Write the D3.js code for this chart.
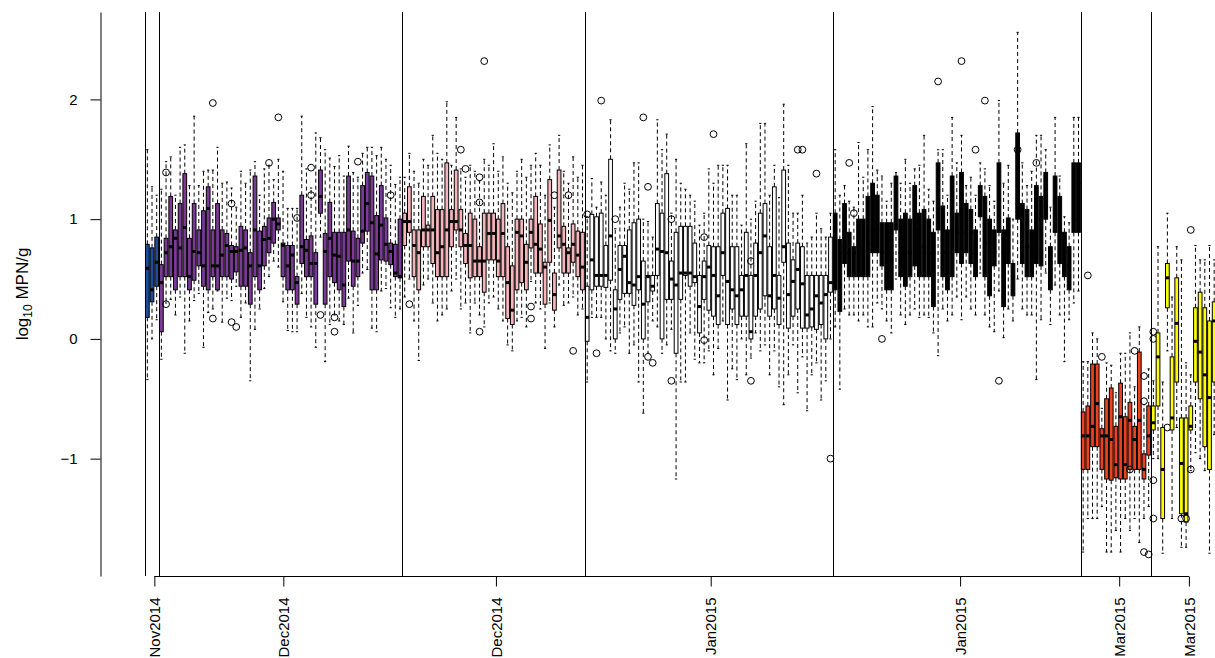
<!DOCTYPE html>
<html>
<head>
<meta charset="utf-8">
<script src="https://cdn.jsdelivr.net/npm/d3@7"></script>
<style>
  body { margin: 0; background: #fff; }
  svg { display: block; font-family: "Liberation Sans", Arial, sans-serif; }
</style>
</head>
<body>
<div id="chart"></div>
<script>
// number of daily boxes in each sampling period (plot order)
const boxCounts = [3, 52, 39, 53, 53, 15, 14];

// box statistics, log10 MPN/g, one value per box (periods on separate lines)
const medians = [
	0.59, 0.41, 0.64,
	0.47, 0.72, 0.77, 0.84, 0.76, 0.93, 0.52, 0.73, 0.72, 0.61, 1.09, 0.61, 0.61, 0.70, 0.78, 0.73, 0.73, 0.74, 0.76, 0.61, 0.91, 0.61, 0.83, 0.84, 1.00, 0.96, 0.78, 0.61, 0.70, 0.47, 0.77, 0.74, 0.63, 0.63, 1.19, 0.73, 0.84, 0.70, 0.69, 0.45, 0.91, 0.65, 0.65, 0.90, 1.13, 0.97, 0.71, 0.95, 0.79, 0.73, 0.55, 0.52,
	0.98, 0.98, 0.78, 0.72, 0.91, 0.91, 0.91, 0.72, 0.77, 0.91, 0.98, 0.98, 0.91, 0.78, 0.78, 0.65, 0.65, 0.65, 0.88, 0.88, 0.65, 0.88, 0.47, 0.24, 0.89, 0.86, 0.64, 0.89, 0.79, 0.75, 0.60, 0.99, 0.37, 0.86, 0.79, 0.72, 0.79, 0.70, 0.60,
	0.18, 0.66, 0.53, 0.53, 0.53, 0.86, 0.25, 0.58, 0.69, 0.47, 0.45, 0.52, 0.29, 0.52, 0.44, 0.75, 0.73, 0.72, 0.50, 0.45, 0.55, 0.55, 0.55, 0.52, 0.27, 0.52, 0.60, 0.53, 0.36, 0.72, 0.48, 0.41, 0.36, 0.41, 0.53, 0.06, 0.53, 0.72, 0.86, 0.36, 0.53, 0.34, 0.77, 0.37, 0.48, 0.58, 0.46, 0.20, 0.25, 0.36, 0.30, 0.37, 0.47,
	0.72, 0.72, 0.77, 0.72, 0.72, 0.77, 0.72, 0.80, 0.91, 0.91, 0.72, 0.72, 0.72, 1.05, 0.72, 0.72, 0.72, 0.91, 0.72, 0.77, 0.72, 0.72, 1.05, 0.72, 0.72, 1.05, 0.89, 1.05, 0.89, 0.89, 0.72, 1.16, 0.80, 0.72, 0.72, 1.16, 0.72, 0.89, 0.52, 1.13, 0.91, 0.77, 0.77, 0.91, 1.00, 1.11, 0.72, 1.16, 0.89, 0.72, 0.61, 1.00, 1.30,
	-0.81, -0.81, -0.73, -0.54, -0.81, -0.81, -0.84, -1.05, -0.65, -1.05, -0.68, -0.84, -0.68, -1.09, -0.81,
	-0.70, -0.15, -1.09, 0.51, -0.66, 0.13, -1.04, -1.46, -0.73, -0.02, -0.11, -0.30, -0.49, 0.15
];
const lowerQuartiles = [
	0.18, 0.31, 0.44,
	0.06, 0.52, 0.52, 0.41, 0.52, 0.52, 0.41, 0.49, 0.61, 0.44, 0.41, 0.52, 0.41, 0.52, 0.52, 0.50, 0.56, 0.44, 0.44, 0.29, 0.52, 0.41, 0.61, 0.72, 0.80, 0.91, 0.52, 0.41, 0.41, 0.29, 0.63, 0.52, 0.52, 0.29, 1.05, 0.29, 0.52, 0.47, 0.41, 0.27, 0.65, 0.44, 0.52, 0.80, 0.90, 0.41, 0.41, 0.66, 0.65, 0.62, 0.52, 0.51,
	0.78, 0.89, 0.52, 0.41, 0.77, 0.77, 0.63, 0.52, 0.52, 0.52, 0.77, 0.91, 0.77, 0.63, 0.51, 0.52, 0.52, 0.39, 0.66, 0.66, 0.52, 0.52, 0.17, 0.12, 0.41, 0.47, 0.41, 0.76, 0.55, 0.55, 0.29, 0.64, 0.24, 0.76, 0.55, 0.55, 0.64, 0.52, 0.41,
	-0.02, 0.41, 0.44, 0.44, 0.43, 0.49, 0.00, 0.33, 0.38, 0.38, 0.28, 0.41, 0.00, 0.31, 0.40, 0.53, 0.00, 0.33, 0.33, -0.12, 0.33, 0.53, 0.44, 0.47, 0.05, 0.33, 0.24, 0.19, 0.12, 0.53, 0.12, 0.25, 0.12, 0.19, 0.19, 0.00, 0.19, 0.25, 0.36, 0.19, 0.25, 0.12, 0.64, 0.09, 0.19, 0.25, 0.09, 0.09, 0.10, 0.08, 0.12, 0.00, 0.39,
	0.41, 0.23, 0.63, 0.52, 0.52, 0.52, 0.52, 0.52, 0.72, 0.72, 0.61, 0.41, 0.41, 0.91, 0.52, 0.44, 0.52, 0.61, 0.52, 0.52, 0.52, 0.27, 0.91, 0.52, 0.41, 0.52, 0.72, 0.63, 0.72, 0.63, 0.52, 1.02, 0.52, 0.36, 0.61, 0.89, 0.27, 0.63, 0.36, 1.00, 0.63, 0.52, 0.52, 0.63, 0.61, 1.00, 0.41, 0.89, 0.63, 0.52, 0.41, 0.89, 0.89,
	-1.09, -1.09, -0.90, -0.90, -1.09, -1.17, -1.18, -1.16, -1.17, -1.17, -1.09, -1.09, -1.09, -1.17, -0.97,
	-0.76, -0.56, -1.50, 0.26, -0.76, -0.36, -1.46, -1.53, -0.76, -0.36, -0.50, -0.90, -1.09, -0.36
];
const upperQuartiles = [
	0.79, 0.76, 0.85,
	0.62, 0.84, 1.19, 0.91, 1.13, 1.38, 0.84, 1.13, 0.91, 1.07, 1.27, 0.91, 1.13, 0.91, 0.88, 0.78, 0.77, 0.94, 0.91, 0.72, 1.36, 0.90, 0.94, 1.01, 1.14, 1.01, 0.80, 0.78, 0.78, 0.52, 1.20, 0.83, 0.86, 0.72, 1.41, 0.88, 1.14, 0.89, 0.89, 0.89, 1.36, 0.90, 0.84, 1.28, 1.39, 1.36, 1.03, 1.28, 1.01, 0.80, 0.79, 1.00,
	1.05, 1.27, 0.91, 0.91, 1.19, 0.95, 1.19, 1.08, 1.08, 1.47, 1.08, 1.41, 1.08, 0.88, 1.05, 1.00, 0.77, 1.05, 1.05, 1.05, 1.00, 1.13, 0.77, 0.61, 1.00, 1.00, 0.79, 1.00, 1.19, 0.96, 0.64, 1.33, 0.55, 1.41, 0.94, 0.76, 0.96, 0.90, 0.89,
	0.44, 1.04, 1.02, 1.05, 0.78, 1.50, 0.41, 0.78, 0.78, 0.91, 0.97, 1.00, 0.65, 0.53, 0.53, 1.13, 1.05, 1.38, 0.65, 0.89, 0.94, 0.94, 0.94, 0.80, 0.53, 0.65, 0.78, 0.77, 0.77, 1.05, 1.09, 0.77, 0.77, 0.53, 0.89, 0.53, 0.80, 1.05, 1.13, 0.77, 1.27, 0.53, 1.41, 0.80, 0.66, 0.80, 0.77, 0.53, 0.53, 0.53, 0.53, 0.53, 0.85,
	1.05, 0.83, 1.13, 0.89, 0.77, 1.00, 1.00, 1.19, 1.30, 1.20, 0.97, 0.97, 0.97, 1.36, 1.00, 1.05, 1.00, 1.28, 1.05, 1.08, 1.00, 0.89, 1.47, 1.11, 0.91, 1.36, 1.05, 1.39, 1.13, 1.08, 0.91, 1.28, 1.19, 1.00, 0.91, 1.47, 0.91, 1.01, 0.63, 1.72, 1.13, 1.08, 0.91, 1.28, 1.19, 1.39, 0.77, 1.36, 1.19, 0.89, 0.77, 1.47, 1.47,
	-0.61, -0.56, -0.21, -0.21, -0.75, -0.50, -0.41, -0.73, -0.37, -0.65, -0.53, -0.73, -0.11, -0.96, -0.56,
	-0.56, 0.05, -0.74, 0.63, -0.15, 0.51, -0.66, -0.66, -0.56, 0.26, 0.39, 0.26, 0.15, 0.31
];
const lowerWhiskers = [
	-0.34, 0.00, 0.16,
	-0.17, 0.30, 0.33, 0.20, 0.35, -0.12, 0.15, 0.32, 0.38, -0.07, 0.22, 0.25, 0.40, 0.14, 0.34, 0.32, 0.44, 0.18, 0.30, -0.35, 0.08, 0.25, 0.42, 0.52, 0.65, 0.60, 0.31, 0.07, 0.06, 0.06, 0.38, 0.18, 0.10, -0.07, 0.85, -0.19, 0.12, 0.20, 0.15, 0.12, 0.34, 0.05, 0.28, 0.55, 0.58, 0.09, 0.06, 0.40, 0.42, 0.26, 0.18, 0.25,
	0.35, 0.50, 0.15, -0.18, 0.45, 0.50, 0.30, 0.15, 0.20, 0.25, 0.40, 0.50, 0.25, 0.30, 0.05, 0.30, 0.20, 0.10, 0.30, 0.35, 0.25, 0.15, -0.05, -0.10, 0.15, 0.18, 0.10, 0.48, 0.30, 0.25, -0.08, 0.30, 0.10, 0.45, 0.28, 0.30, 0.35, 0.20, 0.25,
	-0.36, 0.18, 0.18, 0.18, 0.00, -0.10, -0.12, 0.05, 0.10, -0.12, -0.05, -0.36, -0.62, -0.12, 0.15, 0.10, -0.12, -0.05, 0.08, -1.17, -0.36, -0.36, 0.05, -0.17, -0.20, -0.20, -0.10, -0.30, -0.08, 0.15, -0.51, -0.25, -0.34, 0.00, -0.30, -0.16, 0.05, -0.10, -0.05, -0.30, -0.10, -0.40, -0.55, -0.30, -0.05, -0.45, -0.15, -0.60, -0.30, -0.20, -0.51, -0.35, 0.00,
	0.10, -0.42, 0.25, 0.20, 0.20, 0.15, 0.20, 0.10, 0.10, 0.30, 0.25, 0.15, 0.05, 0.50, 0.20, 0.12, 0.20, 0.25, 0.18, 0.20, 0.18, 0.05, -0.14, 0.25, 0.15, 0.20, 0.35, 0.16, 0.35, 0.25, 0.20, 0.55, 0.20, 0.10, 0.06, 0.40, 0.01, 0.25, 0.15, 0.50, 0.25, 0.20, 0.20, -0.34, 0.16, 0.55, 0.12, 0.45, 0.20, -0.19, 0.16, 0.30, 0.40,
	-1.78, -1.50, -1.50, -1.50, -1.40, -1.78, -1.78, -1.60, -1.78, -1.50, -1.60, -1.50, -1.70, -1.50, -1.40,
	-1.00, -1.00, -1.79, -0.10, -1.50, -0.74, -1.74, -1.74, -1.10, -0.95, -1.00, -1.10, -1.79, -0.80
];
const upperWhiskers = [
	1.58, 1.27, 1.20,
	1.25, 1.48, 1.52, 1.20, 1.60, 1.62, 1.28, 1.86, 1.28, 1.40, 1.41, 1.41, 1.60, 1.30, 1.31, 1.26, 1.10, 1.40, 1.30, 1.41, 1.48, 1.20, 1.42, 1.45, 1.33, 1.50, 1.40, 1.09, 1.09, 1.09, 1.86, 1.42, 1.26, 1.72, 1.68, 1.58, 1.51, 1.44, 1.53, 1.36, 1.61, 1.39, 1.35, 1.55, 1.60, 1.60, 1.53, 1.60, 1.50, 1.45, 1.29, 1.35,
	1.35, 1.55, 1.40, 1.30, 1.50, 1.45, 1.70, 1.55, 1.50, 1.98, 1.45, 1.85, 1.42, 1.35, 1.45, 1.40, 1.32, 1.50, 1.45, 1.63, 1.40, 1.52, 1.30, 1.22, 1.40, 1.50, 1.35, 1.45, 1.55, 1.45, 1.20, 1.62, 1.10, 1.70, 1.40, 1.30, 1.52, 1.35, 1.45,
	1.02, 1.34, 1.10, 1.31, 1.20, 1.83, 0.92, 1.10, 1.30, 1.25, 1.47, 1.47, 1.00, 0.98, 0.85, 1.83, 1.58, 1.71, 1.05, 1.50, 1.30, 1.25, 1.20, 1.15, 0.95, 1.05, 1.42, 1.30, 1.45, 1.45, 1.45, 1.20, 1.20, 0.95, 1.63, 1.00, 1.15, 1.80, 1.80, 1.20, 1.45, 1.18, 1.96, 1.45, 1.05, 1.05, 1.20, 0.80, 0.85, 1.05, 0.92, 0.85, 1.05,
	1.58, 1.20, 1.28, 1.15, 1.10, 1.64, 1.35, 1.58, 1.94, 1.41, 1.36, 1.15, 1.30, 1.39, 1.30, 1.50, 1.30, 1.42, 1.45, 1.70, 1.25, 1.15, 1.58, 1.58, 1.20, 1.85, 1.47, 1.70, 1.28, 1.35, 1.20, 1.47, 1.42, 1.28, 1.15, 1.99, 1.30, 1.45, 1.00, 2.56, 1.47, 1.28, 1.40, 1.70, 1.70, 1.58, 1.10, 1.85, 1.36, 1.02, 0.97, 1.85, 1.85,
	-0.19, -0.19, 0.05, 0.00, -0.58, -0.20, -0.22, -0.45, -0.12, -0.12, 0.05, -0.40, 0.10, -0.55, -0.25,
	-0.35, 0.77, -0.36, 1.05, 0.35, 0.77, 0.66, -0.20, -0.30, 0.78, 0.66, 0.66, 0.78, 0.66
];

// outlying points: [box number, value]
const outliers = [
	[4, 1.39], [4, 0.29], [14, 1.97], [14, 0.17], [18, 1.13], [18, 0.14], [19, 0.10], [26, 1.47],
	[28, 1.85], [32, 1.01], [35, 1.43], [35, 1.20], [37, 0.20], [40, 0.18], [40, 0.06], [45, 1.48], [52, 1.20],
	[56, 0.29], [67, 1.58], [68, 1.42], [71, 1.35], [71, 1.14], [72, 2.32], [71, 0.06], [82, 0.27],
	[82, 0.17], [87, 1.20], [90, 1.20], [91, -0.10],
	[94, 1.04], [96, -0.12], [97, 1.99], [100, 1.00], [106, 1.85], [107, 1.27], [107, -0.15], [108, -0.20],
	[112, 1.00], [112, -0.35], [119, 0.85], [119, -0.01], [121, 1.71], [129, 0.65], [129, -0.35],
	[139, 1.58], [140, 1.58], [143, 1.38], [146, -1.00],
	[150, 1.47], [151, 1.05], [157, 0.00], [169, 2.15], [174, 2.32], [177, 1.58], [179, 1.99], [182, -0.35],
	[186, 1.58], [190, 1.47],
	[201, 0.53], [204, -0.15], [210, -1.09], [211, -0.10], [213, -0.31], [213, -0.52], [213, -1.78], [214, -1.80],
	[215, 0.06], [215, 0.00], [215, -1.18], [215, -1.50], [218, -0.74], [221, -1.50], [222, -1.50], [223, 0.91], [223, -1.09]
];

// date ticks, in box-number units
const tickPositions = [1.5, 29.06, 74.5, 120.4, 173.7, 207.7, 222.6];
const tickLabels = ["Nov2014", "Dec2014", "Dec2014", "Jan2015", "Jan2015", "Mar2015", "Mar2015"];
const yTicks = [-1, 0, 1, 2];

const periodColors = ["#1d4c9e", "#7b3a96", "#f6b5bb", "#ffffff", "#000000", "#ea4320", "#ffff00"];

const width = 1215, height = 658;

const svg = d3.select("#chart").append("svg")
	.attr("width", width)
	.attr("height", height);

// boxes up to the red period span 145..1151; yellow ones run off the right edge
const shownBoxes = d3.sum(boxCounts.slice(0, 6));
const x = d3.scaleLinear().domain([-0.5, shownBoxes - 0.5]).range([145, 1151]);
const y = d3.scaleLinear().domain([-1.98, 2.73]).range([576, 12]);

const step = x(1) - x(0);
const boxW = step * 0.8;

let boxes = [];
let starts = [];
let idx = 0;
boxCounts.forEach(function(n, g){
	starts.push(idx);
	for (let k = 0; k < n; k++, idx++){
		boxes.push({
			i: idx, g: g,
			med: medians[idx], q1: lowerQuartiles[idx], q3: upperQuartiles[idx],
			lo: lowerWhiskers[idx], hi: upperWhiskers[idx]
		});
	}
});

const boxG = svg.append("g")
	.selectAll("g.box")
	.data(boxes)
	.enter()
	.append("g")
	.attr("class", "box")
	.attr("transform", d => `translate(${x(d.i)},0)`);

// whiskers
boxG.append("line")
	.attr("y1", d => y(d.q3)).attr("y2", d => y(d.hi))
	.attr("stroke", "#000").attr("stroke-dasharray", "4,3");
boxG.append("line")
	.attr("y1", d => y(d.q1)).attr("y2", d => y(d.lo))
	.attr("stroke", "#000").attr("stroke-dasharray", "4,3");

// staples
boxG.selectAll("line.staple")
	.data(d => [d.hi, d.lo])
	.enter()
	.append("line")
	.attr("class", "staple")
	.attr("x1", -boxW * 0.3).attr("x2", boxW * 0.3)
	.attr("y1", v => y(v)).attr("y2", v => y(v))
	.attr("stroke", "#000");

boxG.append("rect")
	.attr("x", -boxW / 2)
	.attr("width", boxW)
	.attr("y", d => y(d.q3))
	.attr("height", d => y(d.q1) - y(d.q3))
	.attr("fill", d => periodColors[d.g])
	.attr("stroke", "#000")
	.attr("stroke-width", 1);

boxG.append("line")
	.attr("x1", -boxW / 2).attr("x2", boxW / 2)
	.attr("y1", d => y(d.med)).attr("y2", d => y(d.med))
	.attr("stroke", "#000")
	.attr("stroke-width", 3);

boxG.selectAll("circle")
	.data(d => outliers.filter(o => o[0] === d.i))
	.enter()
	.append("circle")
	.attr("cx", 0)
	.attr("cy", o => y(o[1]))
	.attr("r", 3.4)
	.attr("fill", "none")
	.attr("stroke", "#000");

// period separators
svg.append("g")
	.selectAll("line")
	.data(starts)
	.enter()
	.append("line")
	.attr("x1", s => Math.round(x(s - 0.5)) + 0.5)
	.attr("x2", s => Math.round(x(s - 0.5)) + 0.5)
	.attr("y1", y.range()[1])
	.attr("y2", y.range()[0])
	.attr("stroke", "#000");

// y axis
const yAxis = svg.append("g")
	.attr("transform", "translate(100.5,0)")
	.call(d3.axisLeft(y).tickValues(yTicks).tickSize(10).tickPadding(13).tickSizeOuter(0).tickFormat(d3.format("d")));
yAxis.selectAll("text").style("font-size", "15px").attr("fill", "#000");

// x axis: line only between first and last tick, as R draws it
const xAxis = svg.append("g")
	.attr("transform", "translate(0,576.5)")
	.call(d3.axisBottom(x).tickValues(tickPositions).tickSize(10).tickFormat((d, i) => tickLabels[i]));
xAxis.select(".domain").remove();
xAxis.append("line")
	.attr("x1", x(tickPositions[0]))
	.attr("x2", x(tickPositions[tickPositions.length - 1]))
	.attr("stroke", "#000");
xAxis.selectAll("text")
	.attr("transform", "rotate(-90)")
	.attr("x", -21)
	.attr("y", 0)
	.attr("dy", "0.35em")
	.style("text-anchor", "end")
	.style("font-size", "15px")
	.attr("fill", "#000");

// y label with subscript
const ylab = svg.append("text")
	.attr("transform", `translate(28,${(y.range()[0] + y.range()[1]) / 2}) rotate(-90)`)
	.attr("text-anchor", "middle")
	.style("font-size", "17px");
ylab.append("tspan").text("log");
ylab.append("tspan").attr("dy", 4).style("font-size", "12px").text("10");
ylab.append("tspan").attr("dy", -4).text(" MPN/g");
</script>
</body>
</html>
